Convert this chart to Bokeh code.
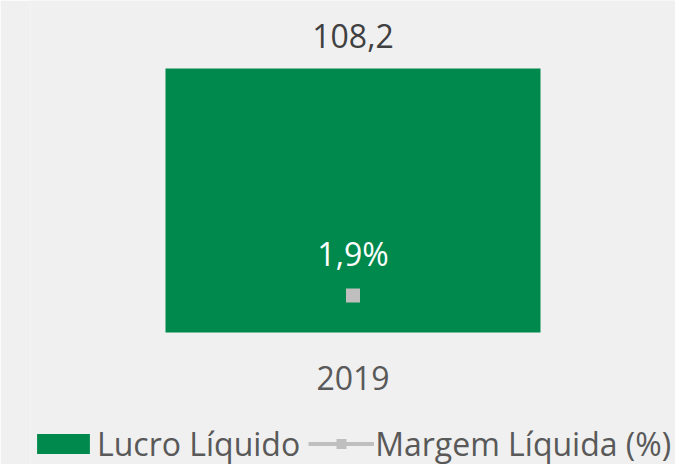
from bokeh.plotting import figure
from bokeh.models import Range1d, FactorRange, Legend, LegendItem, ColumnDataSource
from bokeh.core.properties import value
from bokeh.embed import file_html
from bokeh.resources import INLINE

categories = ["2019"]
lucro = [108.2]
margem = [1.9]
lucro_labels = ["108,2"]
margem_labels = ["1,9%"]

BG = "#f0f0f0"
GREEN = "#00894D"
GRAY = "#BFBFBF"
FONT = "Open Sans"

W, H = 675, 464
LEFT = 30
# frame layout (pixels): baseline of bars, height given to the main series, to the margin series
BASE_PX = 332
MAIN_PX = 264
SEC_PX = 37

k1 = MAIN_PX / max(lucro)
k2 = SEC_PX / max(margem)
y_main = Range1d(-(H - BASE_PX) / k1, BASE_PX / k1)
y_sec = Range1d(-(H - BASE_PX) / k2, BASE_PX / k2)

src = ColumnDataSource(dict(cat=categories, lucro=lucro, margem=margem,
                            ll=lucro_labels, ml=margem_labels))

p = figure(width=W, height=H, x_range=FactorRange(*categories), y_range=y_main,
           output_backend="svg", toolbar_location=None,
           min_border_top=0, min_border_left=LEFT, min_border_right=0, min_border_bottom=0,
           background_fill_color=BG, border_fill_color=BG, outline_line_color=None)
p.extra_y_ranges = {"m": y_sec}
p.x_range.range_padding = 0

bar = p.vbar(x="cat", top="lucro", width=375 / (W - LEFT), source=src, color=GREEN, line_color=None)
ln = p.line(x="cat", y="margem", source=src, y_range_name="m", line_color=GRAY, line_width=4)
sc = p.scatter(x="cat", y="margem", source=src, y_range_name="m", marker="square",
               size=14, color=GRAY, line_color=None)

p.text(x="cat", y="lucro", text="ll", source=src, text_align="center", text_baseline="middle",
       y_offset=-33, text_font=value(FONT), text_font_size="32px", text_color="#404040")
p.text(x="cat", y="margem", text="ml", source=src, y_range_name="m", text_align="center",
       text_baseline="middle", y_offset=-42, text_font=value(FONT), text_font_size="32px",
       text_color="#ffffff")

p.yaxis.visible = False
p.grid.visible = False
ax = p.xaxis[0]
ax.fixed_location = 0
ax.axis_line_color = None
ax.major_tick_line_color = None
ax.minor_tick_line_color = None
ax.major_tick_out = 0
ax.major_tick_in = 0
ax.major_label_text_font = FONT
ax.major_label_text_font_size = "32px"
ax.major_label_text_color = "#595959"
ax.major_label_standoff = 33

legend = Legend(items=[LegendItem(label="Lucro Líquido", renderers=[bar]),
                       LegendItem(label="Margem Líquida (%)", renderers=[ln, sc])],
                orientation="horizontal", location=(0, -1),
                label_text_font=FONT, label_text_font_size="32px", label_text_color="#595959",
                glyph_width=66, glyph_height=25, label_standoff=1, spacing=8,
                padding=0, margin=0, background_fill_alpha=0, border_line_color=None,
                label_height=20)
p.add_layout(legend, "center")

open("out.html", "w").write(file_html(p, INLINE))
